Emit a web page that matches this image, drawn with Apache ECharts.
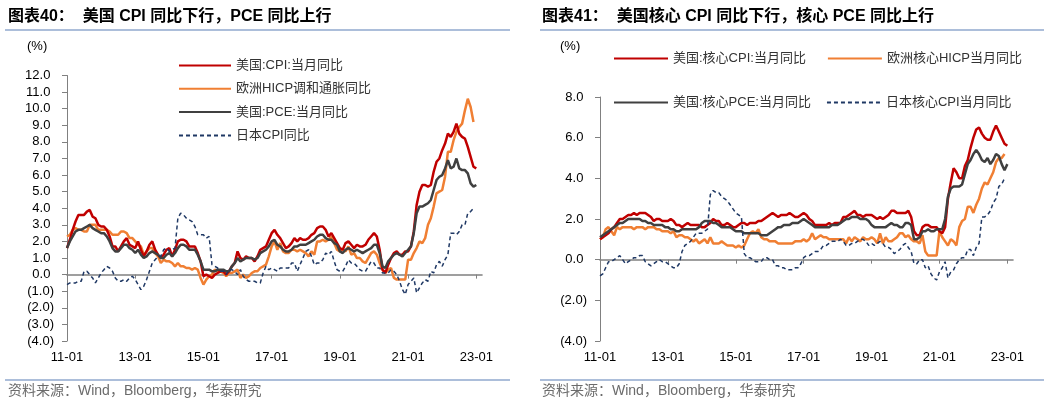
<!DOCTYPE html>
<html>
<head>
<meta charset="utf-8">
<script src="https://cdn.jsdelivr.net/npm/echarts@6/dist/echarts.min.js"></script>
<style>
html,body{margin:0;padding:0;background:#fff;}
#c{width:1051px;height:413px;}
</style>
</head>
<body>
<div id="c"></div>
<script>
// ---- categories: monthly 2011-01 .. 2023-03 ----
const categories = [];
for (let y = 2011; y <= 2023; y++) {
  for (let m = 1; m <= 12; m++) {
    if (y === 2023 && m > 3) break;
    categories.push(y + '-' + String(m).padStart(2, '0'));
  }
}
const leftTicks = [-4, 12, 1];
const rightTicks = [-4, 8, 2];

// ---- left chart: headline inflation (YoY %) ----
const usCpi = [
 1.6,2.1,2.7,3.2,3.6,3.6,3.6,3.8,3.9,3.5,3.4,3.0,
 2.9,2.9,2.7,2.3,1.7,1.7,1.4,1.7,2.0,2.2,1.8,1.7,
 1.6,2.0,1.5,1.1,1.4,1.8,2.0,1.5,1.2,1.0,1.2,1.5,
 1.6,1.1,1.5,2.0,2.1,2.1,2.0,1.7,1.7,1.7,1.3,0.8,
 -0.1,0.0,-0.1,-0.2,0.0,0.1,0.2,0.2,0.0,0.2,0.5,0.7,
 1.4,1.0,0.9,1.1,1.0,1.0,0.8,1.1,1.5,1.6,1.7,2.1,
 2.5,2.7,2.4,2.2,1.9,1.6,1.7,1.9,2.2,2.0,2.2,2.1,
 2.1,2.2,2.4,2.5,2.8,2.9,2.9,2.7,2.3,2.5,2.2,1.9,
 1.6,1.5,1.9,2.0,1.8,1.6,1.8,1.7,1.7,1.8,2.1,2.3,
 2.5,2.3,1.5,0.3,0.1,0.6,1.0,1.3,1.4,1.2,1.2,1.4,
 1.4,1.7,2.6,4.2,5.0,5.4,5.4,5.3,5.4,6.2,6.8,7.0,
 7.5,7.9,8.5,8.3,8.6,9.1,8.5,8.3,8.2,7.7,7.1,6.5,
 6.4];
const euHicp = [
 2.3,2.4,2.7,2.8,2.7,2.7,2.6,2.6,3.0,3.0,3.0,2.7,
 2.7,2.7,2.7,2.6,2.4,2.4,2.4,2.6,2.6,2.5,2.2,2.2,
 2.0,1.8,1.7,1.2,1.4,1.6,1.6,1.3,1.1,0.7,0.9,0.8,
 0.8,0.7,0.5,0.7,0.5,0.5,0.4,0.4,0.3,0.4,0.3,-0.2,
 -0.6,-0.3,-0.1,0.0,0.3,0.2,0.2,0.1,-0.1,0.1,0.1,0.2,
 0.3,-0.2,0.0,-0.2,-0.1,0.1,0.2,0.2,0.4,0.5,0.6,1.1,
 1.7,2.0,1.5,1.9,1.4,1.3,1.3,1.5,1.5,1.4,1.5,1.4,
 1.3,1.1,1.4,1.2,2.0,2.0,2.1,2.0,2.1,2.3,1.9,1.5,
 1.4,1.5,1.4,1.7,1.2,1.3,1.0,1.0,0.8,0.7,1.0,1.3,
 1.4,1.2,0.7,0.3,0.1,0.3,0.4,-0.2,-0.3,-0.3,-0.3,-0.3,
 0.9,0.9,1.3,1.6,2.0,1.9,2.2,3.0,3.4,4.1,4.9,5.0,
 5.1,5.9,7.4,7.4,8.1,8.6,8.9,9.1,9.9,10.6,10.1,9.2];
const usPce = [
 1.6,2.0,2.3,2.6,2.7,2.7,2.8,2.9,3.0,2.8,2.7,2.6,
 2.5,2.5,2.3,2.0,1.6,1.4,1.4,1.6,1.8,1.8,1.6,1.5,
 1.3,1.5,1.2,1.0,1.1,1.3,1.4,1.3,1.2,1.0,1.0,1.2,
 1.3,1.1,1.3,1.6,1.8,1.8,1.7,1.5,1.5,1.5,1.2,0.8,
 0.3,0.3,0.3,0.2,0.2,0.3,0.3,0.3,0.2,0.2,0.5,0.7,
 1.0,0.8,0.9,1.0,1.0,1.0,0.9,1.0,1.3,1.4,1.5,1.7,
 2.0,2.1,1.8,1.7,1.5,1.4,1.4,1.5,1.7,1.7,1.8,1.8,
 1.8,1.9,2.0,2.1,2.3,2.4,2.4,2.2,2.1,2.1,1.9,1.8,
 1.4,1.3,1.5,1.6,1.5,1.4,1.5,1.4,1.3,1.4,1.5,1.6,
 1.8,1.8,1.3,0.5,0.4,0.8,1.0,1.2,1.3,1.2,1.1,1.3,
 1.5,1.7,2.5,3.7,4.1,4.1,4.2,4.3,4.5,5.1,5.7,5.9,
 6.0,6.4,6.9,6.4,6.5,7.0,6.4,6.3,6.3,6.1,5.5,5.3,
 5.4];
const jpCpi = [
 -0.6,-0.5,-0.5,-0.5,-0.4,-0.4,0.2,0.2,0.0,-0.2,-0.5,-0.2,
 0.1,0.3,0.5,0.4,0.2,-0.2,-0.4,-0.4,-0.3,-0.4,-0.2,-0.1,
 -0.3,-0.6,-0.9,-0.7,-0.3,0.2,0.7,0.9,1.1,1.1,1.5,1.6,
 1.4,1.5,1.6,3.4,3.7,3.6,3.4,3.3,3.2,2.9,2.4,2.4,
 2.4,2.2,2.3,0.6,0.5,0.4,0.2,0.2,0.0,0.3,0.3,0.2,
 0.0,0.3,-0.1,-0.3,-0.4,-0.4,-0.4,-0.5,-0.5,0.1,0.5,0.3,
 0.4,0.3,0.2,0.4,0.4,0.4,0.4,0.7,0.7,0.2,0.6,1.0,
 1.4,1.5,1.1,0.6,0.7,0.7,0.9,1.3,1.2,1.4,0.8,0.3,
 0.2,0.2,0.5,0.9,0.7,0.7,0.5,0.3,0.2,0.2,0.5,0.8,
 0.7,0.4,0.4,0.1,0.1,0.1,0.3,0.2,0.0,-0.4,-0.9,-1.2,
 -0.6,-0.4,-0.2,-1.1,-0.8,-0.5,-0.3,-0.4,0.2,0.1,0.6,0.8,
 0.5,0.9,1.2,2.5,2.5,2.4,2.6,3.0,3.0,3.7,3.8,4.0];

// ---- right chart: core inflation (YoY %) ----
const usCoreCpi = [
 1.0,1.1,1.2,1.3,1.5,1.6,1.8,2.0,2.0,2.1,2.2,2.2,
 2.3,2.2,2.3,2.3,2.3,2.2,2.1,1.9,2.0,2.0,1.9,1.9,
 1.9,2.0,1.9,1.7,1.7,1.6,1.7,1.8,1.7,1.7,1.7,1.7,
 1.6,1.6,1.7,1.8,2.0,1.9,1.9,1.7,1.7,1.8,1.7,1.6,
 1.6,1.7,1.8,1.8,1.7,1.8,1.8,1.8,1.9,1.9,2.0,2.1,
 2.2,2.3,2.2,2.1,2.2,2.2,2.2,2.3,2.2,2.1,2.1,2.2,
 2.3,2.2,2.0,1.9,1.7,1.7,1.7,1.7,1.7,1.8,1.7,1.8,
 1.8,1.8,2.1,2.1,2.2,2.3,2.4,2.2,2.2,2.1,2.2,2.2,
 2.2,2.1,2.0,2.1,2.0,2.1,2.2,2.4,2.4,2.3,2.3,2.3,
 2.3,2.4,2.1,1.4,1.2,1.2,1.6,1.7,1.7,1.6,1.6,1.6,
 1.4,1.3,1.6,3.0,3.8,4.5,4.3,4.0,4.0,4.6,4.9,5.5,
 6.0,6.4,6.5,6.2,6.0,5.9,5.9,6.3,6.6,6.3,6.0,5.7,
 5.6];
const euCoreHicp = [
 1.0,1.1,1.5,1.6,1.4,1.2,1.6,1.5,1.6,1.6,1.6,1.6,
 1.5,1.6,1.6,1.6,1.5,1.6,1.6,1.6,1.5,1.5,1.4,1.4,
 1.4,1.3,1.4,1.1,1.2,1.2,1.1,1.1,1.0,0.9,1.0,0.8,
 0.9,1.0,0.8,1.1,0.8,0.8,0.8,0.9,0.8,0.7,0.7,0.7,
 0.6,0.7,0.6,0.7,1.0,1.3,1.4,1.3,1.5,1.1,1.0,1.0,
 0.9,0.9,0.9,0.8,0.8,0.8,0.8,0.8,0.8,0.9,0.9,0.9,
 1.0,0.9,1.0,1.3,1.0,1.1,1.2,1.1,1.1,1.0,1.0,1.0,
 1.0,1.0,1.0,0.8,1.1,0.9,1.1,1.0,0.9,1.1,1.0,1.0,
 1.1,1.0,0.8,1.3,0.8,1.1,0.9,0.9,1.0,1.1,1.3,1.3,
 1.1,1.2,1.0,0.9,0.9,0.8,1.2,0.4,0.2,0.2,0.2,0.2,
 1.4,1.1,0.9,0.7,1.0,0.9,0.7,1.6,1.9,2.0,2.6,2.6,
 2.3,2.7,3.0,3.5,3.8,3.7,4.0,4.3,4.8,5.0,5.0,5.2];
const usCorePce = [
 1.1,1.2,1.3,1.4,1.5,1.6,1.7,1.8,1.8,1.9,2.0,2.0,
 2.0,2.0,2.0,1.9,1.9,1.8,1.8,1.7,1.7,1.7,1.7,1.6,
 1.6,1.5,1.5,1.4,1.4,1.5,1.5,1.5,1.5,1.5,1.5,1.6,
 1.8,1.9,1.9,1.9,1.8,1.8,1.7,1.6,1.6,1.6,1.6,1.5,
 1.4,1.4,1.4,1.3,1.3,1.3,1.3,1.3,1.3,1.2,1.2,1.2,
 1.3,1.4,1.5,1.6,1.6,1.7,1.7,1.7,1.8,1.8,1.8,1.9,
 2.0,1.9,1.8,1.7,1.6,1.6,1.6,1.6,1.6,1.6,1.7,1.7,
 1.7,1.8,1.9,2.0,2.0,2.1,2.1,2.1,2.0,2.0,2.0,1.9,
 1.7,1.6,1.6,1.6,1.6,1.6,1.7,1.8,1.7,1.7,1.6,1.6,
 1.8,1.8,1.7,1.0,1.0,1.1,1.4,1.4,1.5,1.4,1.4,1.5,
 1.5,1.5,2.0,3.1,3.5,3.6,3.6,3.6,3.7,4.2,4.7,4.9,
 5.2,5.4,5.2,4.9,4.8,5.0,4.7,4.9,5.2,5.1,4.7,4.4,
 4.7];
const jpCoreCpi = [
 -0.8,-0.7,-0.4,-0.1,-0.1,0.0,0.1,0.2,0.0,-0.2,-0.1,0.0,
 0.1,0.1,0.2,0.2,-0.1,-0.2,-0.3,-0.2,-0.1,0.0,-0.1,-0.1,
 -0.2,-0.3,-0.4,-0.4,-0.2,0.4,0.7,0.8,0.9,1.1,1.3,1.3,
 1.3,1.4,1.5,3.2,3.4,3.3,3.3,3.1,3.0,2.9,2.7,2.5,
 2.3,2.2,2.1,0.3,0.1,0.1,0.0,-0.1,-0.1,-0.1,0.1,0.1,
 0.0,0.0,-0.3,-0.3,-0.4,-0.4,-0.5,-0.5,-0.5,-0.4,-0.4,-0.2,
 0.1,0.2,0.2,0.3,0.4,0.4,0.5,0.7,0.7,0.8,0.9,0.9,
 0.9,1.0,0.9,0.7,0.7,0.8,0.8,0.9,1.0,1.0,0.9,0.7,
 0.8,0.7,0.8,0.9,0.8,0.6,0.6,0.5,0.3,0.4,0.5,0.7,
 0.8,0.6,0.4,-0.2,-0.2,0.0,0.0,-0.4,-0.3,-0.7,-0.9,-1.0,
 -0.6,-0.4,-0.1,-0.9,-0.6,-0.5,-0.2,0.0,0.1,0.1,0.5,0.5,
 0.2,0.6,0.8,2.1,2.1,2.2,2.4,2.8,3.0,3.6,3.7,4.0];

const names = {
  cpi: '美国:CPI:当月同比', hicp: '欧洲HICP调和通胀同比', pce: '美国:PCE:当月同比', jp: '日本CPI同比',
  ccpi: '美国:核心CPI:当月同比', chicp: '欧洲核心HICP当月同比', cpce: '美国:核心PCE:当月同比', cjp: '日本核心CPI当月同比'
};

const RED = '#C00000', ORANGE = '#F07F33', DARK = '#404040', NAVY = '#1F3864', AXIS = '#808080';
const FONT = "'Liberation Sans','Noto Sans CJK SC',sans-serif";

function fmt(v) {
  return v < 0 ? '(' + (-v).toFixed(1) + ')' : v.toFixed(1) + '\u00a0';
}
function labelAxis(g) {
  return {
    gridIndex: g, type: 'category', data: categories, boundaryGap: false, position: 'bottom',
    axisLine: { show: false, onZero: false }, axisTick: { show: false },
    axisLabel: { interval: 23, margin: 10, fontSize: 13, color: '#000', fontFamily: FONT,
      formatter: v => v.slice(2) }
  };
}
function zeroAxis(g) {
  return {
    gridIndex: g, type: 'category', data: categories, boundaryGap: false, position: 'top',
    axisLine: { show: true, onZero: true, lineStyle: { color: AXIS, width: 1.6 } },
    axisTick: { show: true, inside: true, interval: 23, length: 4, lineStyle: { color: AXIS, width: 1 } },
    axisLabel: { show: false }, splitLine: { show: false }
  };
}
function valAxis(g, t) {
  return {
    gridIndex: g, type: 'value', min: t[0], max: t[1], interval: t[2],
    axisLine: { show: true, onZero: false, lineStyle: { color: AXIS, width: 1 } },
    axisTick: { show: true, length: 5, lineStyle: { color: AXIS } },
    axisLabel: { margin: 13, fontSize: 13, color: '#000', fontFamily: FONT, formatter: fmt },
    splitLine: { show: false }
  };
}
function line(name, data, g, color, width, dashed, z) {
  return {
    name, type: 'line', data, xAxisIndex: g * 2, yAxisIndex: g, symbol: 'none', showSymbol: false,
    z, lineStyle: { color, width, type: dashed ? [4, 3] : 'solid' }, itemStyle: { color }
  };
}

const legendText = { fontSize: 13, color: '#333', fontFamily: FONT };
const legendBase = { itemHeight: 14, textStyle: legendText, selectedMode: false, itemStyle: { opacity: 0 } };

const option = {
  animation: false,
  backgroundColor: '#fff',
  grid: [
    { left: 67, top: 75.5, width: 415, height: 265.5 },
    { left: 600, top: 97, width: 413, height: 244 }
  ],
  xAxis: [labelAxis(0), zeroAxis(0), labelAxis(1), zeroAxis(1)],
  yAxis: [valAxis(0, leftTicks), valAxis(1, rightTicks)],
  legend: [
    Object.assign({ data: [names.cpi, names.hicp, names.pce, names.jp], orient: 'vertical', left: 173, top: 54,
      itemWidth: 52, itemGap: 10.3 }, legendBase),
    Object.assign({ data: [names.ccpi, names.chicp], orient: 'horizontal', left: 608, top: 47,
      itemWidth: 54, itemGap: 21 }, legendBase),
    Object.assign({ data: [names.cpce, names.cjp], orient: 'horizontal', left: 608, top: 91,
      itemWidth: 54, itemGap: 15 }, legendBase)
  ],
  series: [
    line(names.hicp, euHicp, 0, ORANGE, 2.5, false, 2),
    line(names.cpi, usCpi, 0, RED, 2.5, false, 3),
    line(names.pce, usPce, 0, DARK, 2.5, false, 4),
    line(names.jp, jpCpi, 0, NAVY, 1.5, true, 5),
    line(names.chicp, euCoreHicp, 1, ORANGE, 2.5, false, 2),
    line(names.ccpi, usCoreCpi, 1, RED, 2.5, false, 3),
    line(names.cpce, usCorePce, 1, DARK, 2.5, false, 4),
    line(names.cjp, jpCoreCpi, 1, NAVY, 1.5, true, 5)
  ],
  graphic: [
    { type: 'text', left: 8, top: 9, style: { text: '图表40：  美国 CPI 同比下行，PCE 同比上行', font: "bold 16px " + FONT, fill: '#000' } },
    { type: 'text', left: 542, top: 9, style: { text: '图表41：  美国核心 CPI 同比下行，核心 PCE 同比上行', font: "bold 16px " + FONT, fill: '#000' } },
    { type: 'line', shape: { x1: 5, y1: 30, x2: 510, y2: 30 }, style: { stroke: '#5B7FB5', lineWidth: 1.2 } },
    { type: 'line', shape: { x1: 540, y1: 30, x2: 1044, y2: 30 }, style: { stroke: '#5B7FB5', lineWidth: 1.2 } },
    { type: 'line', shape: { x1: 5, y1: 380, x2: 510, y2: 380 }, style: { stroke: '#5B7FB5', lineWidth: 1.2 } },
    { type: 'line', shape: { x1: 540, y1: 380, x2: 1044, y2: 380 }, style: { stroke: '#5B7FB5', lineWidth: 1.2 } },
    { type: 'text', left: 27, top: 40, style: { text: '(%)', font: "13px " + FONT, fill: '#000' } },
    { type: 'text', left: 560, top: 40, style: { text: '(%)', font: "13px " + FONT, fill: '#000' } },
    { type: 'text', left: 8, top: 384, style: { text: '资料来源：Wind，Bloomberg，华泰研究', font: "14px " + FONT, fill: '#6b6b6b' } },
    { type: 'text', left: 542, top: 384, style: { text: '资料来源：Wind，Bloomberg，华泰研究', font: "14px " + FONT, fill: '#6b6b6b' } }
  ]
};

const chart = echarts.init(document.getElementById('c'), null, { renderer: 'canvas' });
chart.setOption(option);
</script>
</body>
</html>
